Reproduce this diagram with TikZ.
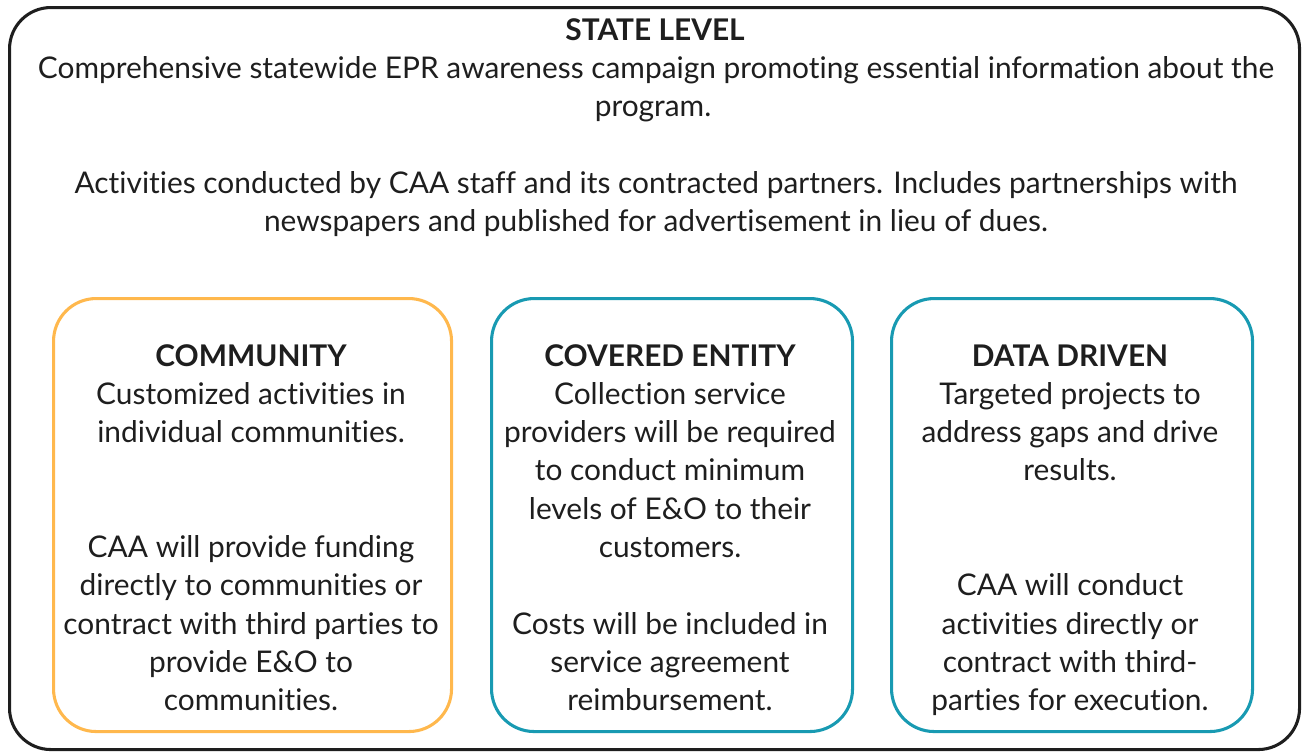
\documentclass[tikz,border=0pt]{standalone}
\usepackage{fontspec}
\setmainfont{Lato}[Ligatures={NoCommon}]
\definecolor{orng}{RGB}{255,184,77}
\definecolor{tealb}{RGB}{24,154,178}
\definecolor{ink}{RGB}{30,30,30}
\begin{document}
\begin{tikzpicture}[x=0.75pt,y=-0.75pt,
  txt/.style={anchor=base,inner sep=0pt,text=ink,font=\fontsize{22.4}{26}\selectfont},
  hd/.style={txt,font=\fontsize{22.4}{26}\selectfont\bfseries},
  outerbox/.style={draw=ink,line width=2.3pt,rounded corners=31pt},
  orangebox/.style={draw=orng,line width=2.3pt,rounded corners=32pt},
  tealbox/.style={draw=tealb,line width=2.3pt,rounded corners=32pt}]
\useasboundingbox (0,0) rectangle (1302,751);
\node[outerbox,minimum width=1290*0.75pt,minimum height=742*0.75pt,anchor=north west] (state) at (8,6) {};
\node[orangebox,minimum width=398*0.75pt,minimum height=433*0.75pt,anchor=north west] (community) at (52,297) {};
\node[tealbox,minimum width=361*0.75pt,minimum height=433*0.75pt,anchor=north west] (covered) at (490,297) {};
\node[tealbox,minimum width=361*0.75pt,minimum height=433*0.75pt,anchor=north west] (data) at (890,297) {};
% state level text
\node[hd] (s0) at (655,40.5) {STATE LEVEL};
\node[txt] (s1) at (656,78) {Comprehensive statewide EPR awareness campaign promoting essential information about the};
\node[txt] (s2) at (653,116) {program.};
\node[txt] (s3) at (656,193) {Activities conducted by CAA staff and its contracted partners. Includes partnerships with};
\node[txt] (s4) at (656,231) {newspapers and published for advertisement in lieu of dues.};
% community
\node[hd] (c0) at (251,366) {COMMUNITY};
\node[txt] (c1) at (251,404.3) {Customized activities in};
\node[txt] (c2) at (251,442.6) {individual communities.};
\node[txt] (c5) at (251,557.5) {CAA will provide funding};
\node[txt] (c6) at (251,595.8) {directly to communities or};
\node[txt] (c7) at (251,634.1) {contract with third parties to};
\node[txt] (c8) at (251,672.4) {provide E\&O to};
\node[txt] (c9) at (251,710.7) {communities.};
% covered entity
\node[hd] (e0) at (670,366) {COVERED ENTITY};
\node[txt] (e1) at (670,404.3) {Collection service};
\node[txt] (e2) at (670,442.6) {providers will be required};
\node[txt] (e3) at (670,480.9) {to conduct minimum};
\node[txt] (e4) at (670,519.2) {levels of E\&O to their};
\node[txt] (e5) at (670,557.5) {customers.};
\node[txt] (e7) at (670,634.1) {Costs will be included in};
\node[txt] (e8) at (670,672.4) {service agreement};
\node[txt] (e9) at (670,710.7) {reimbursement.};
% data driven
\node[hd] (d0) at (1070,366) {DATA DRIVEN};
\node[txt] (d1) at (1070,404.3) {Targeted projects to};
\node[txt] (d2) at (1070,442.6) {address gaps and drive};
\node[txt] (d3) at (1070,480.9) {results.};
\node[txt] (d6) at (1070,595.8) {CAA will conduct};
\node[txt] (d7) at (1070,634.1) {activities directly or};
\node[txt] (d8) at (1070,672.4) {contract with third-};
\node[txt] (d9) at (1070,710.7) {parties for execution.};
\end{tikzpicture}
\end{document}
